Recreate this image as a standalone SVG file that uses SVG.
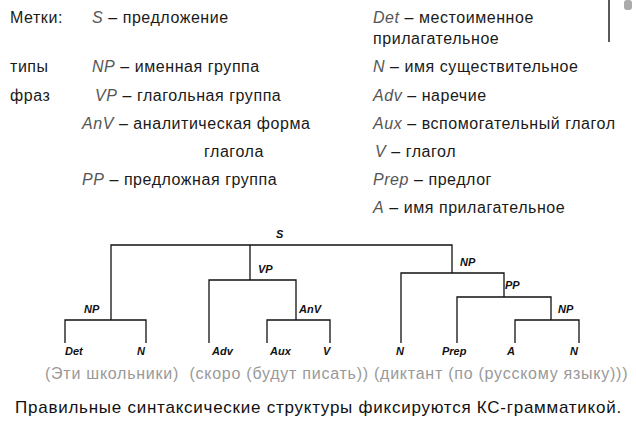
<svg xmlns="http://www.w3.org/2000/svg" width="636" height="423" viewBox="0 0 636 423">
<style>
text{font-family:"Liberation Sans",Arial,sans-serif}
.t{font-size:16px;letter-spacing:0.55px;fill:#1a1a1a}
.i{font-style:italic;fill:#555}
.lab{font-size:11px;font-style:italic;font-weight:bold;fill:#111}
.gray{font-size:16px;letter-spacing:0.75px;fill:#999}
.bot{font-size:17px;letter-spacing:0.75px;fill:#111}
.ln{stroke:#111;stroke-width:1.3;fill:none}
</style>
<rect width="636" height="423" fill="#fff"/>
<g id="legend">
<text class="t" x="10" y="23">Метки:</text>
<text class="t" x="10" y="72">типы</text>
<text class="t" x="10" y="101">фраз</text>
<text class="t" x="92" y="23"><tspan class="i">S</tspan> – предложение</text>
<text class="t" x="92" y="72"><tspan class="i">NP</tspan> – именная группа</text>
<text class="t" x="95" y="101"><tspan class="i">VP</tspan> – глагольная группа</text>
<text class="t" x="82" y="129"><tspan class="i">AnV</tspan> – аналитическая форма</text>
<text class="t" x="204" y="157">глагола</text>
<text class="t" x="82" y="185"><tspan class="i">PP</tspan> – предложная группа</text>
<text class="t" x="373" y="23"><tspan class="i">Det</tspan> – местоименное</text>
<text class="t" x="373" y="44">прилагательное</text>
<text class="t" x="373" y="72"><tspan class="i">N</tspan> – имя существительное</text>
<text class="t" x="373" y="101"><tspan class="i">Adv</tspan> – наречие</text>
<text class="t" x="373" y="129"><tspan class="i">Aux</tspan> – вспомогательный глагол</text>
<text class="t" x="375" y="157"><tspan class="i">V</tspan> – глагол</text>
<text class="t" x="373" y="185"><tspan class="i">Prep</tspan> – предлог</text>
<text class="t" x="373" y="213"><tspan class="i">A</tspan> – имя прилагательное</text>
</g>
<g id="frame">
<line x1="609" y1="0" x2="609" y2="42" stroke="#222" stroke-width="1.5"/>
<rect x="624" y="0" width="8" height="10" rx="3" fill="#aaa"/>
</g>
<g id="connectors" class="ln">
<path d="M111 320V245H452V273"/>
<path d="M65 343V320H146V343"/>
<path d="M250 245V280"/>
<path d="M209 343V280H296V320"/>
<path d="M267 343V320H330V343"/>
<path d="M401 343V273H504V297"/>
<path d="M457 343V297H551V320"/>
<path d="M515 343V320H579V343"/>
</g>
<g id="n-S"><text class="lab" x="276" y="238">S</text></g>
<g id="n-NP1"><text class="lab" x="84" y="313">NP</text></g>
<g id="n-VP"><text class="lab" x="258" y="273">VP</text></g>
<g id="n-AnV"><text class="lab" x="299" y="313">AnV</text></g>
<g id="n-NP2"><text class="lab" x="460" y="266">NP</text></g>
<g id="n-PP"><text class="lab" x="505" y="289">PP</text></g>
<g id="n-NP3"><text class="lab" x="558" y="313">NP</text></g>
<g id="n-Det"><text class="lab" x="65" y="355">Det</text></g>
<g id="n-N1"><text class="lab" x="137" y="355">N</text></g>
<g id="n-Adv"><text class="lab" x="212" y="355">Adv</text></g>
<g id="n-Aux"><text class="lab" x="270" y="355">Aux</text></g>
<g id="n-V"><text class="lab" x="323" y="355">V</text></g>
<g id="n-N2"><text class="lab" x="396" y="355">N</text></g>
<g id="n-Prep"><text class="lab" x="442" y="355">Prep</text></g>
<g id="n-A"><text class="lab" x="507" y="355">A</text></g>
<g id="n-N3"><text class="lab" x="570" y="355">N</text></g>
<g id="sentence">
<text class="gray" x="45" y="379" xml:space="preserve">(Эти школьники)  (скоро (будут писать)) (диктант (по (русскому языку)))</text>
</g>
<g id="caption">
<text class="bot" x="15" y="413">Правильные синтаксические структуры фиксируются КС-грамматикой.</text>
</g>
</svg>
